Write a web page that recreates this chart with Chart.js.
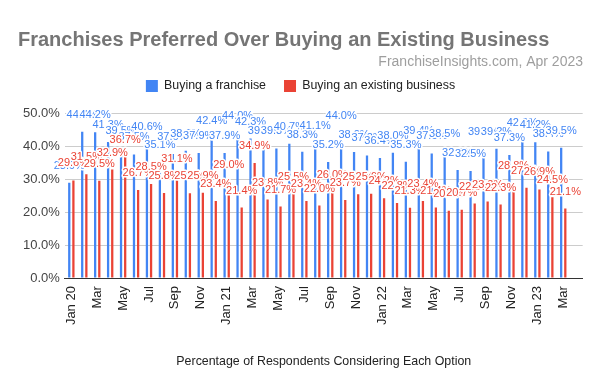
<!DOCTYPE html>
<html>
<head>
<meta charset="utf-8">
<script src="https://cdn.jsdelivr.net/npm/chart.js@4"></script>
<style>
  body { margin: 0; background: #fff; }
  #wrap { width: 600px; height: 371px; position: relative; }
</style>
</head>
<body>
<div id="wrap"><canvas id="chart"></canvas></div>
<script>
// Месяцы (последний слот пустой, как в оригинале)
const months = ['Jan 20', 'Feb', 'Mar', 'Apr', 'May', 'Jun', 'Jul', 'Aug', 'Sep', 'Oct', 'Nov', 'Dec',
    'Jan 21', 'Feb', 'Mar', 'Apr', 'May', 'Jun', 'Jul', 'Aug', 'Sep', 'Oct', 'Nov', 'Dec',
    'Jan 22', 'Feb', 'Mar', 'Apr', 'May', 'Jun', 'Jul', 'Aug', 'Sep', 'Oct', 'Nov', 'Dec',
    'Jan 23', 'Feb', 'Mar', 'Apr'];

// Покупка франшизы, %
const franchise = [28.9, 44.4, 44.2, 41.3, 39.5, 37.5, 40.6, 35.1, 37.6, 38.6, 37.9, 42.4,
    37.9, 44.0, 42.3, 39.5, 39.3, 40.7, 38.3, 41.1, 35.2, 44.0, 38.2, 37.2,
    36.4, 38.0, 35.3, 39.4, 37.8, 38.5, 32.8, 32.5, 39.0, 39.2, 37.3, 42.0,
    41.2, 38.4, 39.5, null];

// Покупка существующего бизнеса, %
const existing = [29.6, 31.5, 29.5, 32.9, 36.7, 26.7, 28.5, 25.8, 31.1, 25.7, 25.9, 23.4,
    29.0, 21.4, 34.9, 23.8, 21.7, 25.5, 23.4, 22.0, 26.0, 23.7, 25.4, 25.6,
    24.2, 22.8, 21.3, 23.4, 21.4, 20.4, 20.7, 22.6, 23.2, 22.3, 28.8, 27.4,
    26.9, 24.5, 21.1, null];

const yTicks = [0, 10, 20, 30, 40, 50];

const BLUE = '#4285f4';
const RED = '#ea4335';
const FONT = 'Arial, "Liberation Sans"';

// Подписи значений над столбцами (с отступом, как в Google Charts)
const barLabels = {
    id: 'barLabels',
    afterDatasetsDraw(chart) {
        const ctx = chart.ctx;
        ctx.save();
        ctx.font = '11px ' + FONT;
        ctx.textAlign = 'center';
        ctx.textBaseline = 'alphabetic';
        ctx.lineJoin = 'round';
        chart.data.datasets.forEach((ds, i) => {
            const meta = chart.getDatasetMeta(i);
            meta.data.forEach((el, j) => {
                const v = ds.data[j];
                if (v == null) return;
                const txt = v.toFixed(1) + '%';
                ctx.lineWidth = 3;
                ctx.strokeStyle = '#fff';
                ctx.strokeText(txt, el.x, el.y - 14);
                ctx.fillStyle = ds.backgroundColor;
                ctx.fillText(txt, el.x, el.y - 14);
            });
        });
        ctx.restore();
    }
};

// Дополнительный отступ под легендой
const legendGap = {
    id: 'legendGap',
    beforeInit(chart) {
        const fit = chart.legend.fit;
        chart.legend.fit = function() {
            fit.call(this);
            this.height += 11;
        };
    }
};

new Chart(document.getElementById('chart'), {
    type: 'bar',
    data: {
        labels: months,
        datasets: [
            { label: 'Buying a franchise', data: franchise, backgroundColor: BLUE },
            { label: 'Buying an existing business', data: existing, backgroundColor: RED }
        ]
    },
    options: {
        responsive: true,
        maintainAspectRatio: false,
        animation: false,
        layout: { padding: { left: 18, right: 17, top: 28, bottom: 0 } },
        categoryPercentage: 0.64,
        barPercentage: 0.55,
        plugins: {
            title: {
                display: true,
                text: 'Franchises Preferred Over Buying an Existing Business',
                align: 'start',
                color: '#757575',
                font: { family: FONT, size: 20, weight: 'bold' },
                padding: { top: 0, bottom: 2 }
            },
            subtitle: {
                display: true,
                text: 'FranchiseInsights.com, Apr 2023',
                align: 'end',
                color: '#9e9e9e',
                font: { family: FONT, size: 14 },
                padding: { top: 0, bottom: -9 }
            },
            legend: {
                position: 'top',
                labels: {
                    boxWidth: 12,
                    boxHeight: 12,
                    color: '#222',
                    font: { family: FONT, size: 12.4 },
                    padding: 18
                }
            },
            tooltip: { enabled: false }
        },
        scales: {
            x: {
                grid: { display: false, drawTicks: false },
                border: { color: '#333' },
                ticks: {
                    autoSkip: false,
                    minRotation: 90,
                    maxRotation: 90,
                    padding: 8,
                    color: '#222',
                    font: { family: FONT, size: 13 },
                    callback: function(val, idx) { return idx % 2 === 0 ? this.getLabelForValue(val) : ''; }
                },
                title: {
                    display: true,
                    text: 'Percentage of Respondents Considering Each Option',
                    color: '#222',
                    font: { family: FONT, size: 12.4 },
                    padding: { top: 21, bottom: 2 }
                }
            },
            y: {
                min: yTicks[0],
                max: yTicks[yTicks.length - 1],
                border: { display: false },
                grid: {
                    color: ctx => ctx.tick.value === 0 ? '#333' : '#cccccc',
                    drawTicks: false
                },
                afterBuildTicks: axis => { axis.ticks = yTicks.map(v => ({ value: v })); },
                ticks: {
                    color: '#444',
                    padding: 5,
                    font: { family: FONT, size: 13 },
                    callback: v => v.toFixed(1) + '%'
                }
            }
        }
    },
    plugins: [barLabels, legendGap]
});
</script>
</body>
</html>
